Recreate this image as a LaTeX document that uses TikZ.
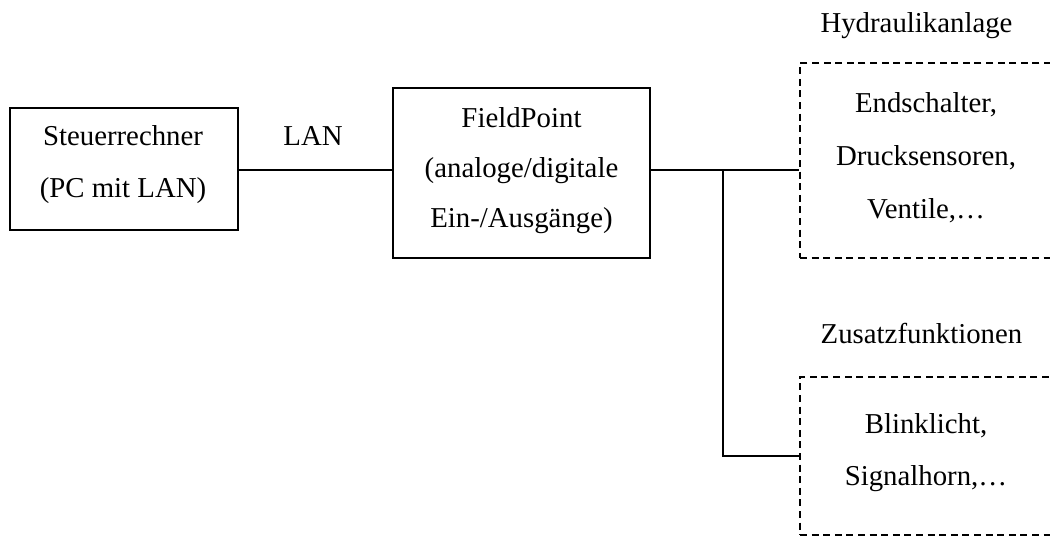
\documentclass[tikz,border=0pt]{standalone}
\usepackage{fontspec}
\setmainfont{Liberation Serif}
\begin{document}
\begin{tikzpicture}[x=0.5pt,y=-0.5pt,
  solidbox/.style={draw, line width=0.8pt, inner sep=0pt},
  dashbox/.style={draw, line width=0.7pt, dash pattern=on 3.5pt off 2.3pt, inner sep=0pt},
  wire/.style={line width=0.8pt},
  txt/.style={inner sep=0pt, align=center, font=\fontsize{14.4}{26}\selectfont},
  lbl/.style={inner sep=0pt, anchor=base, font=\fontsize{14.4}{26}\selectfont}]
\useasboundingbox (0,0) rectangle (1050,537);
% boxes
\node[solidbox, minimum width=114pt, minimum height=61pt] (pc) at (124,169) {};
\node[solidbox, minimum width=128.5pt, minimum height=85pt] (fp) at (521.5,173) {};
\node[dashbox, minimum width=130pt, minimum height=97.5pt] (hyd) at (930,160.5) {};
\node[dashbox, minimum width=130pt, minimum height=79pt] (zus) at (930,456) {};
% texts
\node[txt] (pctxt) at (123,160.6) {Steuerrechner\strut\\(PC mit LAN)\strut};
\node[txt, font=\fontsize{14.4}{25}\selectfont] (fptxt) at (521.5,167) {FieldPoint\strut\\(analoge/digitale\strut\\Ein-/Ausgänge)\strut};
\node[txt, font=\fontsize{14.4}{26.5}\selectfont] (hydtxt) at (926,154.4) {Endschalter,\strut\\Drucksensoren,\strut\\Ventile,\dots\strut};
\node[txt] (zustxt) at (926,448.6) {Blinklicht,\strut\\Signalhorn,\dots\strut};
\node[lbl] (lan) at (313,145) {LAN};
\node[lbl] (hydlbl) at (916.5,32) {Hydraulikanlage};
\node[lbl] (zuslbl) at (921.5,343) {Zusatzfunktionen};
% connectors
\coordinate (br) at (723,170);
\draw[wire] (pc.east |- br) -- (fp.west |- br);
\draw[wire] (fp.east |- br) -- (hyd.west |- br);
\draw[wire] (br) |- (zus.west);
\end{tikzpicture}
\end{document}
